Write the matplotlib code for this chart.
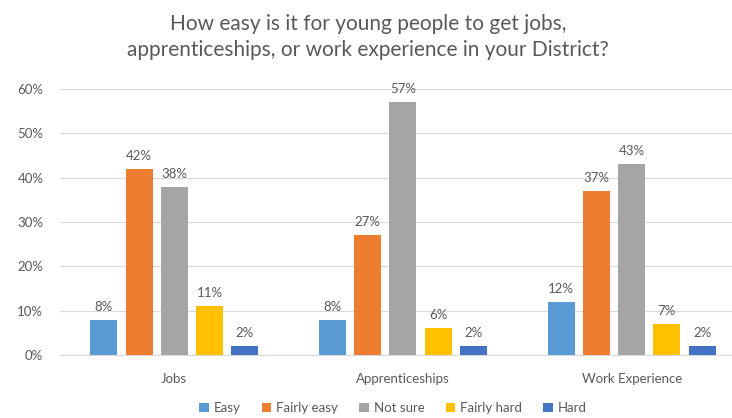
import matplotlib.pyplot as plt
import numpy as np

plt.rcParams["font.family"] = ["Lato", "DejaVu Sans"]

categories = ["Jobs", "Apprenticeships", "Work Experience"]
responses = ["Easy", "Fairly easy", "Not sure", "Fairly hard", "Hard"]
easy = [8, 8, 12]
fairly_easy = [42, 27, 37]
not_sure = [38, 57, 43]
fairly_hard = [11, 6, 7]
hard = [2, 2, 2]
colors = ["#5B9BD5", "#ED7D31", "#A5A5A5", "#FFC000", "#4472C4"]

series = [easy, fairly_easy, not_sure, fairly_hard, hard]
text_col = "#595959"

fig = plt.figure(figsize=(7.32, 4.18), dpi=100)
ax = fig.add_axes([60 / 732, 63 / 418, 672 / 732, 266 / 418])

x = np.arange(len(categories))
step = 0.154
width = 0.118
for i, (name, vals, col) in enumerate(zip(responses, series, colors)):
    pos = x + (i - 2) * step
    bars = ax.bar(pos, np.array(vals) / 100, width, color=col, label=name, zorder=3)
    for b, v in zip(bars, vals):
        ax.annotate(f"{v}%", (b.get_x() + b.get_width() / 2, b.get_height()),
                    xytext=(0, 5), textcoords="offset points",
                    ha="center", va="bottom", fontsize=9.5, color=text_col)

ax.set_xlim(-0.5, 2.5 - 14 / 229)
ax.set_ylim(0, 0.6)
ax.set_yticks(np.arange(0, 0.61, 0.1))
ax.set_yticklabels([f"{int(round(t * 100))}%" for t in np.arange(0, 0.61, 0.1)])
ax.set_xticks(x)
ax.set_xticklabels(categories)
ax.tick_params(axis="y", length=0, pad=12, labelsize=9.5, labelcolor=text_col)
ax.tick_params(axis="x", length=0, pad=13, labelsize=9.5, labelcolor=text_col)
ax.grid(axis="y", color="#D9D9D9", linewidth=0.8, zorder=0)
for side in ["top", "right", "left"]:
    ax.spines[side].set_visible(False)
ax.spines["bottom"].set_color("#D9D9D9")

fig.text(0.503, 0.912,
         "How easy is it for young people to get jobs,\napprenticeships, or work experience in your District?",
         ha="center", va="center", fontsize=15, color=text_col, linespacing=1.4)

fig.legend(loc="center", bbox_to_anchor=(0.537, 0.024), ncol=5, frameon=False,
           fontsize=9.5, labelcolor=text_col, handlelength=0.7, handleheight=0.7,
           handletextpad=0.4, columnspacing=1.6)

fig.savefig("out.png", dpi=100)
